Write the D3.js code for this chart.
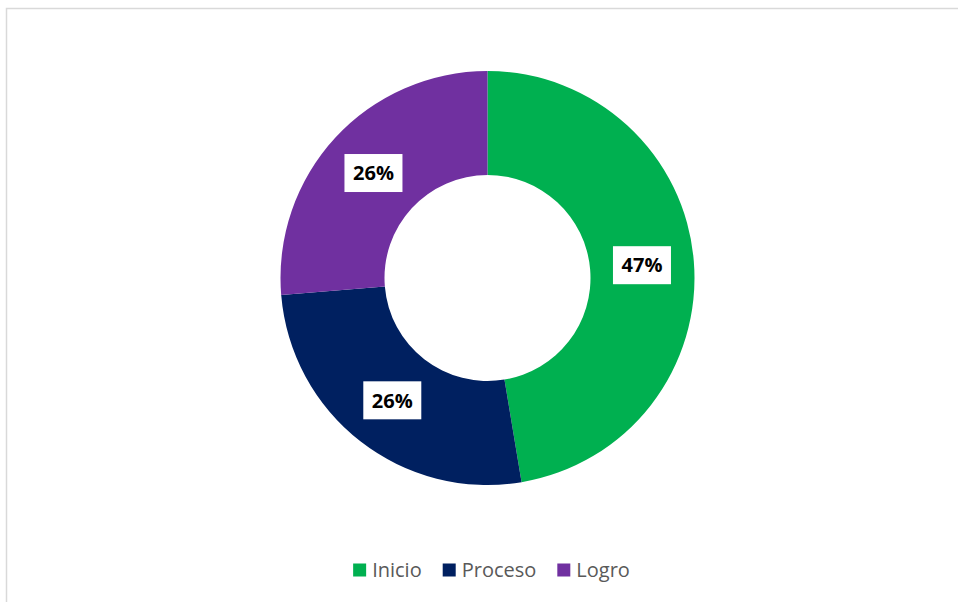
<!DOCTYPE html>
<html>
<head>
<meta charset="utf-8">
<script src="https://cdn.jsdelivr.net/npm/d3@7"></script>
<style>
  body { margin: 0; background: #fff; }
</style>
</head>
<body>
<div id="chart"></div>
<script>
const categories = ["Inicio", "Proceso", "Logro"];
const counts = [18, 10, 10];
const labels = ["47%", "26%", "26%"];
const colors = ["#00B050", "#002060", "#7030A0"];

const width = 958, height = 602;
const cx = 487.5, cy = 278;
const outerR = 207, innerR = 103;

const svg = d3.select("#chart")
  .append("svg")
  .attr("width", width)
  .attr("height", height);

// chart frame
svg.append("rect")
  .attr("x", 6.5)
  .attr("y", 8.5)
  .attr("width", 960)
  .attr("height", 600)
  .attr("fill", "#fff")
  .attr("stroke", "#d9d9d9")
  .attr("stroke-width", 1.5);

const pie = d3.pie().sort(null).value(d => d)(counts);
const arc = d3.arc().innerRadius(innerR).outerRadius(outerR);
const labelArc = d3.arc().innerRadius(155).outerRadius(155);

const g = svg.append("g").attr("transform", `translate(${cx},${cy})`);

g.selectAll("path")
  .data(pie)
  .enter()
  .append("path")
  .attr("d", arc)
  .attr("fill", (d, i) => colors[i]);

const lbl = g.selectAll("g.lbl")
  .data(pie)
  .enter()
  .append("g")
  .attr("class", "lbl")
  .attr("transform", d => `translate(${labelArc.centroid(d)})`);

lbl.append("rect")
  .attr("x", -29)
  .attr("y", -19)
  .attr("width", 58)
  .attr("height", 38)
  .attr("fill", "#fff");

lbl.append("text")
  .attr("text-anchor", "middle")
  .attr("dy", "0.36em")
  .style("font-family", "'Open Sans', sans-serif")
  .style("font-weight", "700")
  .style("font-size", "20px")
  .attr("fill", "#000")
  .text((d, i) => labels[i]);

// legend
const legend = svg.append("g").attr("transform", "translate(0,570)");
const items = legend.selectAll("g")
  .data(categories)
  .enter()
  .append("g");

items.append("rect")
  .attr("width", 13)
  .attr("height", 13)
  .attr("y", -6.5)
  .attr("fill", (d, i) => colors[i]);

items.append("text")
  .attr("x", 19)
  .attr("dy", "0.35em")
  .style("font-family", "'Open Sans', sans-serif")
  .style("font-size", "20px")
  .attr("fill", "#595959")
  .text(d => d);

let widths = [];
items.each(function() { widths.push(this.getBBox().width); });
const gap = 21;
const total = d3.sum(widths) + gap * (widths.length - 1);
let x = 491.5 - total / 2;
items.attr("transform", (d, i) => {
  const t = `translate(${x},0)`;
  x += widths[i] + gap;
  return t;
});
</script>
</body>
</html>
